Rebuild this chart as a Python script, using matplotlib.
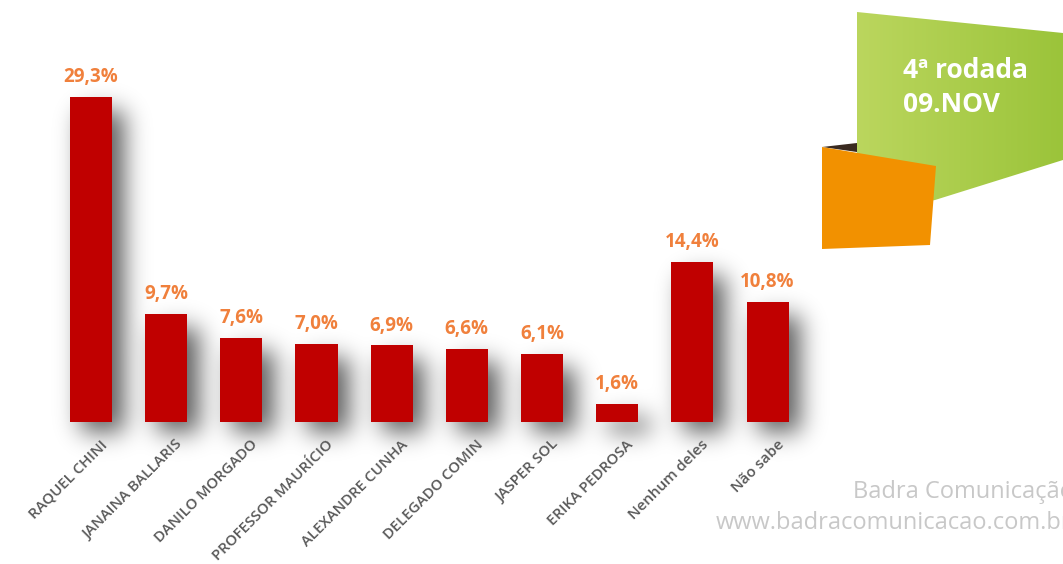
import numpy as np
import matplotlib
matplotlib.use("Agg")
import matplotlib.pyplot as plt
from matplotlib.patches import Polygon
from matplotlib.colors import LinearSegmentedColormap

candidates = ["RAQUEL CHINI", "JANAINA BALLARIS", "DANILO MORGADO", "PROFESSOR MAURÍCIO",
              "ALEXANDRE CUNHA", "DELEGADO COMIN", "JASPER SOL", "ERIKA PEDROSA",
              "Nenhum deles", "Não sabe"]
votes = [29.3, 9.7, 7.6, 7.0, 6.9, 6.6, 6.1, 1.6, 14.4, 10.8]
value_labels = ["29,3%", "9,7%", "7,6%", "7,0%", "6,9%", "6,6%", "6,1%", "1,6%", "14,4%", "10,8%"]

plt.rcParams['font.family'] = ['Open Sans', 'DejaVu Sans']

W, H = 1063, 564
fig = plt.figure(figsize=(W / 100, H / 100), dpi=100)

# decoration layer in pixel coordinates
deco = fig.add_axes([0, 0, 1, 1])
deco.axis('off')

ax = fig.add_axes([0, 0, 1, 1])
ax.set_xlim(-1.21, 12.93)
ax.set_ylim(-12.8, 38.05)
ax.axis('off')

x = np.arange(len(votes))
w = 0.56

ax.bar(x, votes, width=w, color='#C00000', zorder=3)

# soft blurred shadow, built from the bar geometry in pixel space
fig.canvas.draw()
mask = np.zeros((H, W))
for xi, v in zip(x, votes):
    (px0, py0) = ax.transData.transform((xi - w / 2, 0))
    (px1, py1) = ax.transData.transform((xi + w / 2, v))
    r0, r1 = int(H - py1) + 14, int(H - py0) + 10
    c0, c1 = int(px0) + 12, int(px1) + 12
    mask[max(r0, 0):r1, c0:c1] = 1.0
k = np.arange(-40, 41)
g = np.exp(-k ** 2 / (2 * 12.0 ** 2))
g /= g.sum()
mask = np.apply_along_axis(lambda r: np.convolve(r, g, mode='same'), 1, mask)
mask = np.apply_along_axis(lambda c: np.convolve(c, g, mode='same'), 0, mask)
shadow = np.zeros((H, W, 4))
shadow[..., 3] = np.clip(mask * 0.65, 0, 1)
deco.imshow(shadow, extent=(0, W, H, 0), aspect='auto', zorder=0, interpolation='bilinear')

for xi, v, lab in zip(x, votes, value_labels):
    ax.text(xi, v + 0.9, lab, ha='center', va='bottom', color='#F0803C',
            fontsize=13.5, fontweight='bold', zorder=4)

for xi, name in zip(x, candidates):
    ax.text(xi + 0.12, -1.4, name, ha='right', va='top', rotation=45,
            rotation_mode='anchor', color='#595959', fontsize=10.8,
            fontweight='semibold', zorder=4)

# green banner with gradient
green = Polygon([(857, 12), (1063, 33), (1063, 160), (935, 200), (857, 215)],
                closed=True, facecolor='none', edgecolor='none')
deco.add_patch(green)
grad = np.linspace(0, 1, 256).reshape(1, -1)
cmap = LinearSegmentedColormap.from_list('g', ['#BBD65E', '#9BC43A'])
im = deco.imshow(grad, extent=(857, 1063, 215, 12), cmap=cmap, aspect='auto', zorder=1)
im.set_clip_path(green)

deco.add_patch(Polygon([(822, 147), (857, 143), (857, 152)], closed=True,
                       facecolor='#3A2A20', edgecolor='none', zorder=2))
deco.add_patch(Polygon([(822, 147), (936, 166), (930, 245), (822, 249)], closed=True,
                       facecolor='#F29100', edgecolor='none', zorder=3))

deco.text(903, 70, "4ª rodada", color='white', fontsize=19, fontweight='bold',
          va='center', ha='left', zorder=4)
deco.text(903, 105, "09.NOV", color='white', fontsize=19, fontweight='bold',
          va='center', ha='left', zorder=4)

# watermark runs off the right edge, as in the source slide
deco.text(853, 492, "Badra Comunicação", color='#C8C8C8', fontsize=17,
          va='center', ha='left', zorder=4)
deco.text(716, 523, "www.badracomunicacao.com.br", color='#C8C8C8', fontsize=17,
          va='center', ha='left', zorder=4)

deco.set_xlim(0, W)
deco.set_ylim(H, 0)

fig.savefig("out.png", dpi=100)
